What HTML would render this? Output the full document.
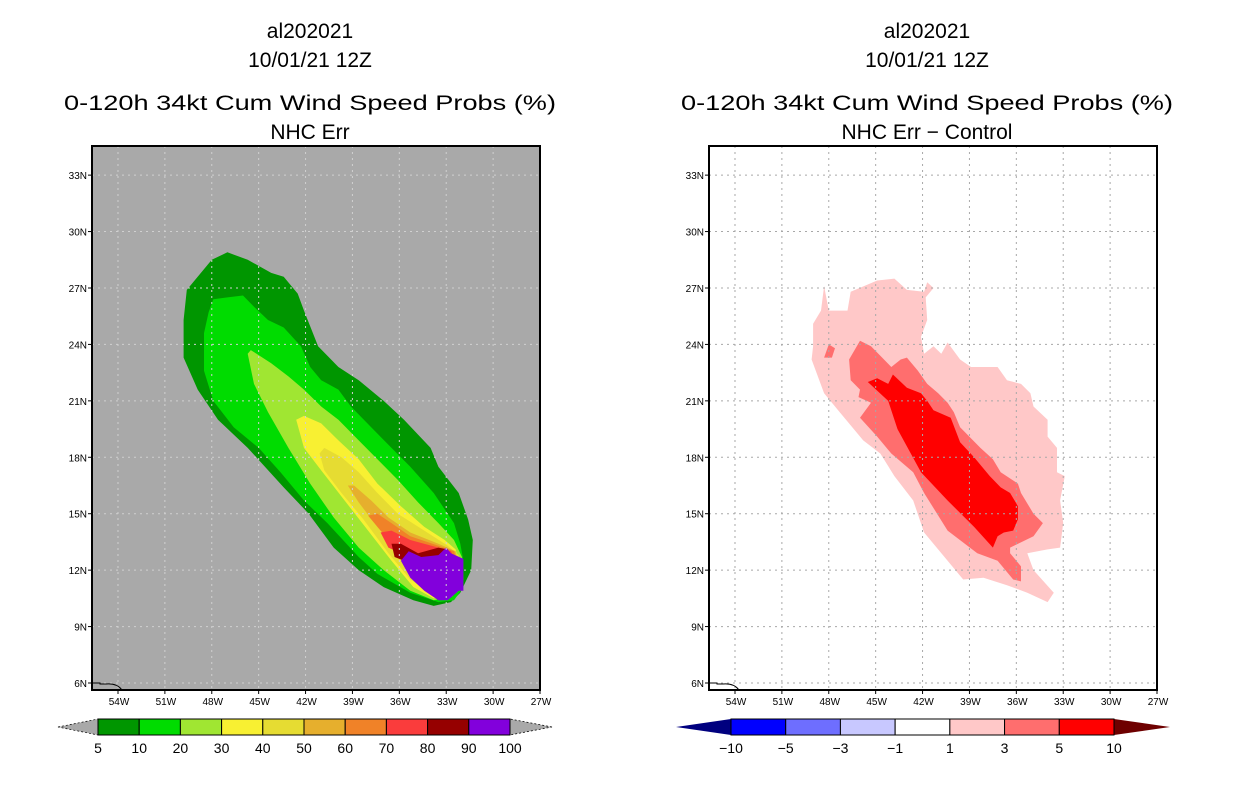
<!DOCTYPE html>
<html><head><meta charset="utf-8"><style>
html,body{margin:0;padding:0;background:#fff;}
svg{display:block;}
text{font-family:"Liberation Sans",sans-serif;fill:#000;}
</style></head><body>
<svg id="chart" width="1236" height="800" viewBox="0 0 1236 800" xmlns="http://www.w3.org/2000/svg">
<rect x="0" y="0" width="1236" height="800" fill="#fff"/>
</svg>
<script>
const NS="http://www.w3.org/2000/svg";
const svg=document.getElementById('chart');

// ---- data ----
const lonTicks=[54,51,48,45,42,39,36,33,30,27];
const latTicks=[6,9,12,15,18,21,24,27,30,33];
const probLevels=["5","10","20","30","40","50","60","70","80","90","100"];
const probColors=["#009600","#00dc00","#a0e632","#f8f032","#e6dc32","#e6af2d","#f08228","#fa3c3c","#960000","#8200dc"];
const diffLevels=["-10","-5","-3","-1","1","3","5","10"];
const diffColors=["#0000ff","#6e6eff","#c8c8ff","#ffffff","#ffc8c8","#ff6e6e","#ff0000"];

// contour polygons, [degrees W, degrees N]
const prob5=[[49.6,26.9],[48.0,28.5],[47.0,28.9],[45.7,28.5],[44.2,27.8],[43.4,27.6],[42.5,26.7],[42.1,25.8],[41.2,23.9],[39.9,22.8],[38.6,22.1],[37.0,21.0],[35.7,20.0],[34.0,18.5],[33.5,17.5],[32.2,16.1],[31.6,14.7],[31.3,13.6],[31.4,12.0],[32.1,10.8],[32.7,10.3],[33.8,10.1],[35.1,10.4],[37.0,11.1],[38.6,12.0],[40.2,13.2],[41.8,15.0],[43.4,16.4],[45.7,18.5],[47.6,20.0],[48.9,21.6],[49.8,23.3],[49.8,25.3]];
const prob10=[[48.2,25.7],[47.9,26.4],[47.0,26.5],[46.0,26.6],[45.3,26.0],[44.4,25.3],[43.4,24.9],[42.3,23.9],[41.7,22.8],[41.0,22.1],[39.9,21.6],[39.1,20.7],[37.8,19.6],[36.5,18.5],[35.3,17.5],[33.8,16.1],[32.5,14.5],[32.1,13.4],[31.9,12.5],[31.9,11.1],[32.5,10.4],[33.5,10.3],[35.3,10.8],[37.4,11.8],[38.6,12.7],[40.6,14.5],[42.1,15.7],[43.6,17.2],[45.0,18.5],[46.6,19.6],[47.9,21.0],[48.5,22.6],[48.5,24.6]];
const prob20=[[45.7,23.5],[45.5,23.7],[44.2,23.0],[43.1,22.3],[42.1,21.6],[41.0,20.7],[39.9,20.0],[38.6,18.9],[37.4,17.9],[36.1,16.8],[34.8,15.6],[33.5,14.5],[32.5,13.6],[32.0,12.7],[31.9,11.5],[32.6,10.6],[33.8,10.4],[35.3,10.9],[37.0,12.0],[38.6,13.2],[40.2,14.8],[41.7,16.6],[43.1,18.5],[44.4,20.4],[45.3,21.9]];
const prob30=[[42.6,20.0],[42.1,20.2],[41.0,19.8],[39.9,18.9],[38.6,17.9],[37.4,16.6],[35.9,15.4],[34.4,14.3],[33.1,13.6],[32.4,13.1],[32.0,11.8],[32.8,10.7],[33.8,10.5],[35.1,11.1],[36.5,12.5],[38.0,14.1],[39.5,15.7],[41.0,17.3],[42.1,18.5]];
const prob40=[[41.1,18.2],[40.8,18.5],[39.7,18.0],[38.6,17.2],[37.4,16.1],[36.1,15.0],[34.4,14.1],[32.9,13.3],[32.2,12.8],[32.0,11.5],[32.9,10.7],[33.8,10.7],[35.3,11.5],[36.7,12.9],[38.3,14.7],[39.7,16.1],[40.8,17.3]];
const prob50=[[39.3,16.5],[38.9,16.5],[37.8,15.7],[36.7,14.8],[35.3,14.0],[33.5,13.4],[32.4,13.0],[32.1,11.6],[33.0,10.7],[33.8,10.7],[35.1,11.8],[36.1,13.1],[37.4,14.3],[38.6,15.6]];
const prob60=[[38.0,14.9],[37.4,15.0],[36.5,14.5],[35.3,13.8],[33.5,13.3],[32.5,13.0],[32.1,11.7],[33.1,10.8],[33.8,10.8],[35.1,12.0],[36.1,13.2],[37.2,14.1]];
const prob70=[[37.2,14.0],[36.5,14.1],[35.3,13.6],[33.5,13.2],[32.7,13.0],[32.1,12.0],[32.1,11.0],[33.3,10.6],[33.8,10.6],[35.1,12.1],[35.9,12.9],[36.7,13.2]];
const prob80=[[36.5,13.4],[35.9,13.4],[34.8,12.9],[33.5,13.2],[32.9,13.1],[32.3,12.0],[32.2,11.0],[33.5,10.5],[33.8,10.6],[34.9,12.0],[35.7,12.5],[36.3,12.7]];
const prob90=[[35.9,12.5],[35.4,13.0],[34.6,12.7],[33.5,12.8],[33.0,13.2],[32.7,12.9],[31.9,12.6],[31.9,10.9],[32.2,10.9],[32.9,10.4],[33.5,10.4],[34.4,10.9],[35.3,11.6]];
const diff1=[[49.0,23.9],[49.0,25.1],[48.5,25.8],[48.3,27.1],[48.0,25.8],[46.8,25.8],[46.6,26.8],[44.9,27.4],[43.8,27.5],[43.0,26.9],[41.9,26.8],[41.7,27.3],[41.3,27.0],[41.8,26.5],[41.7,25.3],[42.1,24.4],[41.9,23.5],[41.3,23.9],[40.8,23.5],[40.4,24.1],[39.6,23.2],[38.9,22.8],[37.2,22.8],[36.6,22.1],[35.7,21.9],[35.1,21.4],[34.9,20.7],[34.0,20.0],[34.0,19.1],[33.4,18.5],[33.4,17.2],[32.9,17.0],[33.2,15.7],[33.0,14.5],[33.2,13.2],[34.0,13.1],[35.3,12.9],[34.9,12.0],[33.6,10.8],[34.0,10.3],[35.3,10.8],[36.6,11.2],[38.1,11.6],[39.4,11.5],[40.4,12.5],[41.9,14.0],[42.6,15.7],[43.8,17.0],[44.7,18.2],[45.8,18.9],[47.4,20.5],[48.3,21.4],[49.1,23.2]];
const diff3=[[46.7,23.2],[46.0,24.2],[45.3,23.9],[44.0,22.8],[43.4,23.2],[43.0,23.3],[42.3,22.6],[41.7,21.9],[41.0,21.4],[40.4,20.9],[40.0,20.4],[39.6,19.6],[38.3,18.5],[37.5,17.9],[37.0,17.2],[35.9,16.6],[35.7,16.1],[34.9,15.0],[34.3,14.5],[34.9,13.8],[36.4,13.2],[36.4,12.9],[35.7,12.2],[35.7,11.4],[36.2,11.5],[37.2,12.5],[38.5,12.9],[40.4,14.1],[41.9,16.1],[42.6,17.2],[44.0,18.2],[44.9,19.1],[46.0,20.1],[45.3,20.9],[46.1,21.2],[46.0,21.6],[46.6,22.1]];
const diff3b=[[48.3,23.3],[48.0,24.0],[47.6,23.8],[47.8,23.3]];
const diff5=[[45.5,22.0],[44.9,22.2],[44.2,21.9],[43.9,22.4],[43.0,21.7],[42.1,21.4],[41.7,21.0],[41.3,20.5],[40.2,20.1],[39.6,18.8],[38.7,18.0],[37.7,17.0],[37.0,16.4],[36.4,16.1],[35.9,15.4],[35.9,14.7],[36.2,14.1],[36.8,14.0],[37.2,13.8],[37.5,13.2],[38.7,14.3],[40.4,15.7],[42.1,17.2],[43.6,19.5],[44.2,21.0]];

function el(tag,attrs,parent){const e=document.createElementNS(NS,tag);for(const k in attrs)e.setAttribute(k,attrs[k]);(parent||svg).appendChild(e);return e;}

function makePanel(px0,cx,bg,grid,layers,layerColors,subtitle,title2){
  const px1=px0+448, py0=146, py1=690;
  const kx=15.63, ky=18.81;
  const X=w=>px1-(w-27)*kx;
  const Y=n=>683-(n-6)*ky;
  const g=el('g',{});
  
  
  const titles=[["al202021",38,null],["10/01/21 12Z",67,null],["0-120h 34kt Cum Wind Speed Probs (%)",110,492],[title2,139,null]];
  titles.forEach((t,i)=>{
    const tx=el('text',{x:cx,y:t[1],'text-anchor':'middle','font-size':'21'},g);
    if(t[2]){tx.setAttribute('textLength',t[2]);tx.setAttribute('lengthAdjust','spacingAndGlyphs');}
    tx.textContent=t[0];
    
    
  });
  const cid='clip'+px0;
  const cp=el('clipPath',{id:cid},g);el('rect',{x:px0,y:py0,width:448,height:544},cp);
  const bgr=el('rect',{x:px0,y:py0,width:448,height:544,fill:bg},g);
  
  
  const cg=el('g',{'clip-path':'url(#'+cid+')'},g);
  layers.forEach((poly,i)=>{
    const p=el('polygon',{points:poly.map(q=>X(q[0]).toFixed(1)+','+Y(q[1]).toFixed(1)).join(' '),fill:layerColors[i]},cg);
    
    
  });
  lonTicks.forEach(w=>{
    if(w===27)return;
    const l=el('line',{x1:X(w),x2:X(w),y1:py0,y2:py1,stroke:grid,'stroke-width':1,'stroke-dasharray':'2,4'},cg);
    
    
  });
  latTicks.forEach(n=>{
    const l=el('line',{x1:px0,x2:px1,y1:Y(n),y2:Y(n),stroke:grid,'stroke-width':1,'stroke-dasharray':'2,4'},cg);
    
    
  });
  const coast=el('path',{d:`M${px0} ${Y(6)} L${px0+8} ${Y(6)} L${px0+8} ${Y(6)+1} L${px0+14} ${Y(6)+1} Q${px0+25} ${Y(6)} ${px0+30} ${py1}`,fill:'none',stroke:'#000','stroke-width':1},cg);
  
  
  const fr=el('rect',{x:px0,y:py0,width:448,height:544,fill:'none',stroke:'#000','stroke-width':2},g);
  
  
  lonTicks.forEach(w=>{
    el('line',{x1:X(w),x2:X(w),y1:py1,y2:py1+4,stroke:'#000'},g);
    const t=el('text',{x:X(w)+1,y:py1+15,'text-anchor':'middle','font-size':'10'},g);
    t.textContent=w+'W';
    
    
  });
  latTicks.forEach(n=>{
    el('line',{x1:px0-4,x2:px0,y1:Y(n),y2:Y(n),stroke:'#000'},g);
    const t=el('text',{x:px0-5,y:Y(n)+4,'text-anchor':'end','font-size':'10'},g);
    t.textContent=n+'N';
    
    
  });
}

function makeColorbar(x0,x1,tl,tr,levels,colors,lc,rc,dashed){
  const y0=719,y1=735,ym=727;
  const g=el('g',{});
  
  
  const n=colors.length, w=(x1-x0)/n;
  const lt=el('polygon',{points:`${tl},${ym} ${x0},${y0} ${x0},${y1}`,fill:lc,stroke:dashed?'#000':'none','stroke-dasharray':'2,2','stroke-width':0.7},g);
  
  
  const rt=el('polygon',{points:`${tr},${ym} ${x1},${y0} ${x1},${y1}`,fill:rc,stroke:dashed?'#000':'none','stroke-dasharray':'2,2','stroke-width':0.7},g);
  
  
  colors.forEach((c,i)=>{
    const r=el('rect',{x:x0+i*w,y:y0,width:w,height:y1-y0,fill:c,stroke:'#000','stroke-width':1},g);
    
    
  });
  levels.forEach((l,i)=>{
    const t=el('text',{x:x0+i*w,y:753,'text-anchor':'middle','font-size':'14'},g);
    t.textContent=l.replace('-','\u2212');
    
    
  });
}

makePanel(92,310,'#a9a9a9','#d0d0d0',[prob5,prob10,prob20,prob30,prob40,prob50,prob60,prob70,prob80,prob90],probColors,'NHC Err','NHC Err');
makePanel(709,927,'#ffffff','#a8a8a8',[diff1,diff3,diff3b,diff5],[diffColors[4],diffColors[5],diffColors[5],diffColors[6]],'diff','NHC Err \u2212 Control');
makeColorbar(98,510,58,552,probLevels,probColors,'#a9a9a9','#a9a9a9',true);
makeColorbar(731,1114,676,1170,diffLevels,diffColors,'#00007f','#6e0000',false);
</script>
</body></html>
